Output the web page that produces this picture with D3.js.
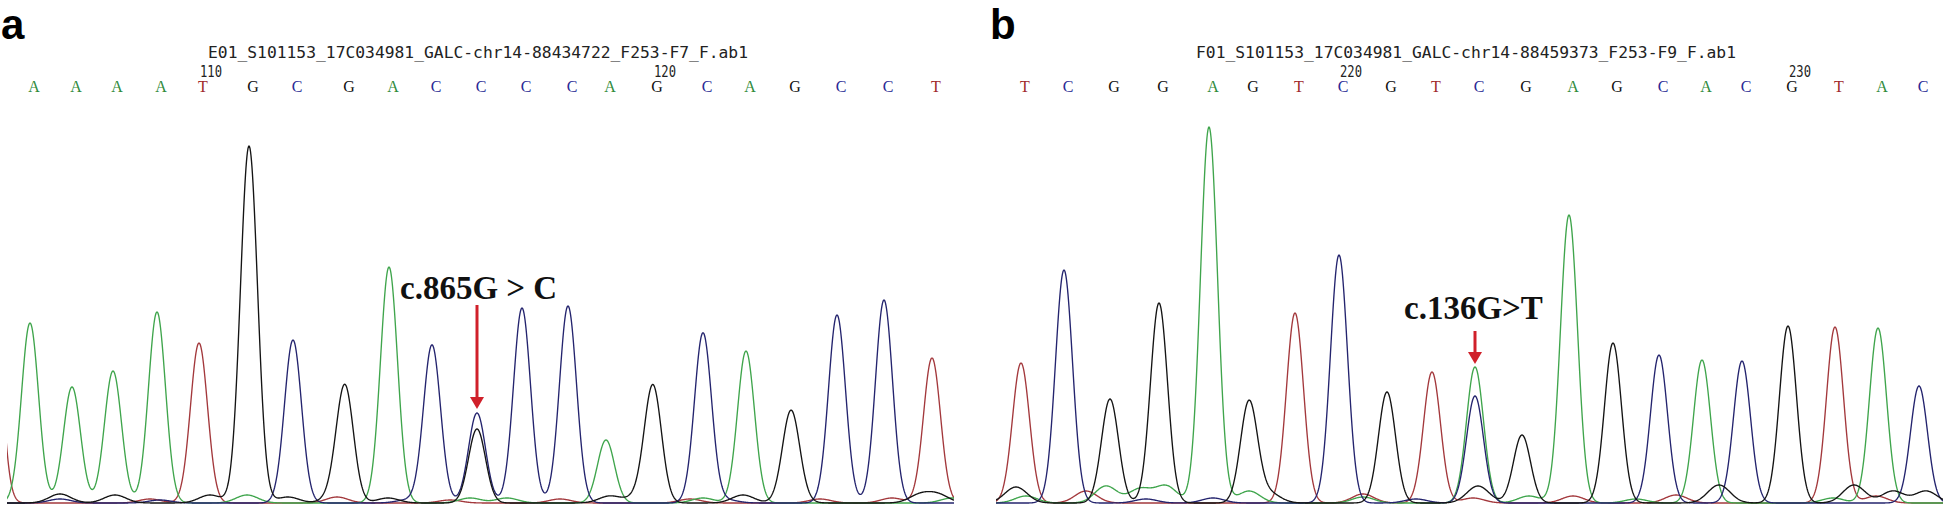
<!DOCTYPE html>
<html><head><meta charset="utf-8">
<script src="https://cdn.jsdelivr.net/npm/d3@7"></script>
<style>html,body{margin:0;padding:0;background:#fff;} svg{display:block}</style>
</head><body>
<svg id="c" width="1946" height="509"></svg>
<script>
// ---------- data ----------
const panelLabels = ["a", "b"];
const titles = [
  "E01_S101153_17C034981_GALC-chr14-88434722_F253-F7_F.ab1",
  "F01_S101153_17C034981_GALC-chr14-88459373_F253-F9_F.ab1"
];
const basesA = ["A","A","A","A","T","G","C","G","A","C","C","C","C","A","G","C","A","G","C","C","T"];
const basesB = ["T","C","G","G","A","G","T","C","G","T","C","G","A","G","C","A","C","G","T","A","C"];
// peak positions (scan units) and signal heights
const peakPosA = [23,65,106,150,192,242,286,338,382,425,470,515,561,599,646,696,739,784,830,877,925];
const peakHA   = [180,116,132,191,160,357,163,111,236,158,90,195,197,63,115,170,152,86,188,203,145];
const peakPosB = [25,68,114,163,213,253,299,343,391,436,479,526,573,617,663,706,746,792,839,882,923];
const peakHB   = [140,233,104,200,376,101,190,248,111,131,136,68,288,160,148,143,142,177,176,175,117];
// channel of the main peak when it differs from the called base
const mainChanB = {10: "A"};
// heterozygous second peaks
const hetA = [{i: 10, base: "G", h: 74}];
const hetB = [{i: 10, base: "C", h: 107}];
// partial peaks at the edge
const edgeA = [{pos: -15, base: "T", h: 250}];
const edgeB = [];
// minor background signal [pos, channel, height]
const minorA = [[53,"G",9],[108,"G",8],[203,"G",8],[240,"A",8],[281,"G",6],[330,"G",10],[330,"T",6],[381,"G",5],[463,"A",5],
  [500,"A",5],[603,"G",7],[633,"G",7],[696,"A",5],[736,"G",8],[786,"G",7],[885,"T",5],[913,"G",8],[931,"G",8],[945,"A",5],
  [143,"T",4],[443,"T",3],[553,"T",4],[683,"T",4],[813,"T",4],[53,"C",4],[153,"C",3],[400,"C",3],[720,"C",3]];
const minorB = [[20,"G",16],[30,"A",7],[90,"T",12],[110,"A",17],[144,"A",14],[170,"A",17],[217,"C",5],[253,"A",12],[273,"G",10],
  [367,"T",9],[367,"A",6],[482,"G",17],[477,"T",5],[533,"A",7],[577,"T",7],[680,"T",8],[723,"G",18],[858,"G",18],[837,"A",5],
  [897,"G",12],[930,"G",12],[880,"T",7],[150,"C",4],[420,"C",4],[640,"A",4]];
const tickLabelsA = [{i: 4, label: "110"}, {i: 14, label: "120"}];
const tickLabelsB = [{i: 7, label: "220"}, {i: 17, label: "230"}];
const mutations = ["c.865G > C", "c.136G>T"];
const mutIndex = [10, 10];

// ---------- styles ----------
const traceColor = {A: "#3fa54c", C: "#24246e", G: "#141414", T: "#a3383c"};
const letterColor = {A: "#2f8a3a", C: "#2a2a95", G: "#111", T: "#a02a2a"};
const channels = ["T", "A", "C", "G"];

const svg = d3.select("#c");
const yScale = d3.scaleLinear().domain([0, 400]).range([503, 103]);

const panels = [
  {label: panelLabels[0], title: titles[0], bases: basesA, pos: peakPosA, h: peakHA, mainChan: {}, het: hetA, edge: edgeA, minor: minorA,
   ticks: tickLabelsA, mut: mutations[0], mi: mutIndex[0], range: [7, 957], labelX: 1, titleX: 478,
   textX: 400, textY: 299, arrowTop: 305, arrowGap: 4},
  {label: panelLabels[1], title: titles[1], bases: basesB, pos: peakPosB, h: peakHB, mainChan: mainChanB, het: hetB, edge: edgeB, minor: minorB,
   ticks: tickLabelsB, mut: mutations[1], mi: mutIndex[1], range: [996, 1946], labelX: 990, titleX: 1466,
   textX: 1404, textY: 319, arrowTop: 331, arrowGap: 3}
];

const SIG = 8.5, SIG_MINOR = 11;

panels.forEach((p, pi) => {
  const x = d3.scaleLinear().domain([0, 950]).range(p.range);
  const g = svg.append("g");

  const cid = "clip" + pi;
  svg.append("defs").append("clipPath").attr("id", cid)
    .append("rect").attr("x", p.range[0]).attr("y", 90).attr("width", p.range[1] - p.range[0] - 3).attr("height", 420);

  const comps = [];
  p.pos.forEach((ps, i) => comps.push({pos: ps, ch: p.mainChan[i] || p.bases[i], h: p.h[i], s: SIG}));
  p.het.forEach(d => comps.push({pos: p.pos[d.i], ch: d.base, h: d.h, s: SIG}));
  p.edge.forEach(d => comps.push({pos: d.pos, ch: d.base, h: d.h, s: SIG}));
  p.minor.forEach(d => comps.push({pos: d[0], ch: d[1], h: d[2], s: SIG_MINOR}));

  const xs = d3.range(-2, 952, 0.5);
  const line = d3.line().x(d => x(d[0])).y(d => yScale(d[1]));
  const tg = g.append("g").attr("clip-path", `url(#${cid})`);
  channels.forEach(ch => {
    const cs = comps.filter(c => c.ch === ch);
    const pts = xs.map(xv => {
      let v = 0;
      cs.forEach(c => { const d = xv - c.pos; v += c.h * Math.exp(-d * d / (2 * c.s * c.s)); });
      return [xv, v];
    });
    tg.append("path").attr("d", line(pts)).attr("fill", "none")
      .attr("stroke", traceColor[ch]).attr("stroke-width", 1.35).attr("stroke-linejoin", "round");
  });

  // panel label
  g.append("text").attr("x", p.labelX).attr("y", 39).text(p.label)
    .attr("font-family", "Liberation Sans, Arial, sans-serif").attr("font-weight", "bold").attr("font-size", 42).attr("fill", "#000");

  // file title
  g.append("text").attr("x", p.titleX).attr("y", 58).attr("text-anchor", "middle").text(p.title)
    .attr("font-family", "DejaVu Sans Mono, monospace").attr("font-size", 15).attr("fill", "#222")
    .attr("textLength", 540).attr("lengthAdjust", "spacingAndGlyphs");

  // base letters
  g.selectAll("text.base").data(p.bases).enter().append("text").attr("class", "base")
    .attr("x", (d, i) => x(p.pos[i]) + 4).attr("y", 92).attr("text-anchor", "middle")
    .text(d => d).attr("fill", d => letterColor[d])
    .attr("font-family", "Liberation Serif, serif").attr("font-size", 16);

  // position numbers
  g.selectAll("text.num").data(p.ticks).enter().append("text").attr("class", "num")
    .attr("x", d => x(p.pos[d.i]) + 1).attr("y", 77).text(d => d.label)
    .attr("font-family", "DejaVu Sans Mono, monospace").attr("font-size", 15).attr("fill", "#222")
    .attr("textLength", 22).attr("lengthAdjust", "spacingAndGlyphs");

  // mutation annotation
  g.append("text").attr("x", p.textX).attr("y", p.textY).text(p.mut)
    .attr("font-family", "Liberation Serif, Times New Roman, serif").attr("font-weight", "bold")
    .attr("font-size", 33).attr("fill", "#111");
  const ax = x(p.pos[p.mi]);
  const maxH = Math.max(p.h[p.mi], ...p.het.filter(d => d.i === p.mi).map(d => d.h));
  const tip = yScale(maxH) - p.arrowGap;
  const red = "#d0202a";
  g.append("line").attr("x1", ax).attr("x2", ax).attr("y1", p.arrowTop).attr("y2", tip - 8)
    .attr("stroke", red).attr("stroke-width", 3);
  g.append("path").attr("d", `M${ax - 7},${tip - 12} L${ax + 7},${tip - 12} L${ax},${tip} Z`).attr("fill", red);
});
</script>
</body></html>
